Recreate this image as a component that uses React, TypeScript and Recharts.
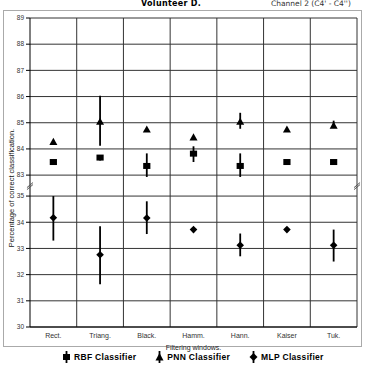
import { ComposedChart, Line, XAxis, YAxis, CartesianGrid, ErrorBar, ReferenceDot } from 'recharts';

// filtering windows on the x axis
const categories = ['Rect.', 'Triang.', 'Black.', 'Hamm.', 'Hann.', 'Kaiser', 'Tuk.'];

// RBF classifier (squares)
const rbfValues = [83.5, 83.67, 83.35, 83.82, 83.35, 83.5, 83.5];
const rbfLow = [83.5, 83.56, 82.93, 83.5, 82.93, 83.5, 83.5];
const rbfHigh = [83.5, 83.76, 83.83, 84.1, 83.83, 83.5, 83.5];

// PNN classifier (triangles)
const pnnValues = [84.28, 85.05, 84.75, 84.45, 85.05, 84.75, 84.9];
const pnnLow = [84.28, 84.12, 84.75, 84.45, 84.77, 84.75, 84.8];
const pnnHigh = [84.28, 86.03, 84.75, 84.45, 85.38, 84.75, 85.08];

// MLP classifier (diamonds)
const mlpValues = [34.17, 32.76, 34.16, 33.72, 33.12, 33.72, 33.12];
const mlpLow = [33.3, 31.63, 33.55, 33.72, 32.7, 33.72, 32.5];
const mlpHigh = [35.0, 33.85, 34.8, 33.72, 33.57, 33.72, 33.72];

const yTickLabels = [30, 31, 32, 33, 34, 35, 83, 84, 85, 86, 87, 88, 89];

// broken y axis: 30-35 and 83-89 stacked with a small gap
const BREAK_FROM = 35;
const BREAK_TO = 83;
const BREAK_GAP = 0.8;
const toAxis = (v: number) => (v <= BREAK_FROM ? v : v - BREAK_TO + BREAK_FROM + BREAK_GAP);
const fromAxis = (t: number) => (t <= BREAK_FROM + BREAK_GAP / 2 ? t : t - BREAK_FROM - BREAK_GAP + BREAK_TO);

const data = categories.map((name, i) => ({
  name,
  rbf: toAxis(rbfValues[i]),
  rbfErr: [rbfValues[i] - rbfLow[i], rbfHigh[i] - rbfValues[i]],
  pnn: toAxis(pnnValues[i]),
  pnnErr: [pnnValues[i] - pnnLow[i], pnnHigh[i] - pnnValues[i]],
  mlp: toAxis(mlpValues[i]),
  mlpErr: [mlpValues[i] - mlpLow[i], mlpHigh[i] - mlpValues[i]],
}));

const square = (p: any) => <rect key={p.key ?? p.index} x={p.cx - 3.6} y={p.cy - 3} width={7.2} height={6} fill="#000" />;
const triangle = (p: any) => (
  <polygon key={p.key ?? p.index} points={`${p.cx - 4},${p.cy + 3.3} ${p.cx + 4},${p.cy + 3.3} ${p.cx},${p.cy - 3.8}`} fill="#000" />
);
const diamond = (p: any) => (
  <polygon key={p.key ?? p.index} points={`${p.cx},${p.cy - 3.8} ${p.cx + 3.8},${p.cy} ${p.cx},${p.cy + 3.8} ${p.cx - 3.8},${p.cy}`} fill="#000" />
);

const breakMark = (p: any) => (
  <g>
    <line x1={p.cx - 3} y1={p.cy + 2} x2={p.cx + 3} y2={p.cy - 3} stroke="#555" strokeWidth={1} />
    <line x1={p.cx - 3} y1={p.cy + 4} x2={p.cx + 3} y2={p.cy - 1} stroke="#555" strokeWidth={1} />
  </g>
);

// vertical grid lines sit on the boundaries between windows
const windowBounds = ({ offset }: any) =>
  categories.map((_, i) => offset.left + ((i + 1) * offset.width) / categories.length);

const font = '"Liberation Sans", Arial, sans-serif';

function LegendItem({ label, shape }: { label: string; shape: 'square' | 'triangle' | 'diamond' }) {
  return (
    <div style={{ display: 'flex', alignItems: 'center', gap: 3 }}>
      <svg width={9} height={12}>
        <line x1={4.5} y1={0} x2={4.5} y2={12} stroke="#000" strokeWidth={1.8} />
        {shape === 'square' && <rect x={1} y={3} width={7} height={6} fill="#000" />}
        {shape === 'triangle' && <polygon points="0.5,9.5 8.5,9.5 4.5,2" fill="#000" />}
        {shape === 'diamond' && <polygon points="4.5,2 8.5,6 4.5,10 0.5,6" fill="#000" />}
      </svg>
      <span style={{ fontFamily: font, fontWeight: 'bold', fontSize: 8.5, letterSpacing: 0.3, color: '#000' }}>{label}</span>
    </div>
  );
}

export default function App() {
  return (
    <div style={{ position: 'absolute', left: 0, top: 0, width: 365, height: 366, background: '#fff', overflow: 'hidden' }}>
      <div style={{ position: 'absolute', left: 3, top: 10, width: 357, height: 335, border: '1.5px solid #aaa' }} />
      <div style={{ position: 'absolute', left: 141, top: -1, fontFamily: '"DejaVu Sans", sans-serif', fontWeight: 'bold', fontSize: 8, letterSpacing: 0.3 }}>
        Volunteer D.
      </div>
      <div style={{ position: 'absolute', left: 271, top: -1, fontFamily: '"DejaVu Sans", sans-serif', fontSize: 7.5, color: '#333' }}>
        Channel 2 (Ĉ4' - Ĉ4'')
      </div>
      <div
        style={{
          position: 'absolute',
          left: 11,
          top: 188,
          transform: 'translate(-50%, -50%) rotate(-90deg)',
          whiteSpace: 'nowrap',
          fontFamily: font,
          fontSize: 7.5,
          color: '#111',
        }}
      >
        Percentage of correct classification.
      </div>
      <div style={{ position: 'absolute', left: 0, top: 0 }}>
        <ComposedChart width={365} height={366} data={data} margin={{ top: 18, right: 8, left: 0, bottom: 16 }}>
          <XAxis
            dataKey="name"
            type="category"
            scale="band"
            height={23}
            tickLine={false}
            axisLine={{ stroke: '#000' }}
            tick={{ fontSize: 7, fill: '#333', fontFamily: font }}
            tickMargin={0}
            label={{ value: 'Filtering windows.', position: 'insideBottom', offset: 0, fontSize: 7, fill: '#222', fontFamily: font }}
          />
          <YAxis
            type="number"
            width={30}
            domain={[30, toAxis(89)]}
            ticks={yTickLabels.map(toAxis)}
            tickFormatter={(t: number) => String(Math.round(fromAxis(t)))}
            interval={0}
            tick={{ fontSize: 6.5, fill: '#333', fontFamily: font }}
            tickSize={4}
            tickLine={{ stroke: '#000' }}
            axisLine={{ stroke: '#000' }}
          />
          <CartesianGrid stroke="#333" strokeWidth={1} verticalCoordinatesGenerator={windowBounds} />
          <Line dataKey="rbf" stroke="none" dot={square} activeDot={false} isAnimationActive={false}>
            <ErrorBar dataKey="rbfErr" width={0} stroke="#000" strokeWidth={1.8} direction="y" />
          </Line>
          <Line dataKey="pnn" stroke="none" dot={triangle} activeDot={false} isAnimationActive={false}>
            <ErrorBar dataKey="pnnErr" width={0} stroke="#000" strokeWidth={1.8} direction="y" />
          </Line>
          <Line dataKey="mlp" stroke="none" dot={diamond} activeDot={false} isAnimationActive={false}>
            <ErrorBar dataKey="mlpErr" width={0} stroke="#000" strokeWidth={1.8} direction="y" />
          </Line>
          <ReferenceDot x="Rect." y={BREAK_FROM + BREAK_GAP / 2} r={0} shape={(p: any) => breakMark({ ...p, cx: p.cx - 23.4 })} ifOverflow="visible" />
          <ReferenceDot x="Tuk." y={BREAK_FROM + BREAK_GAP / 2} r={0} shape={(p: any) => breakMark({ ...p, cx: p.cx + 23.4 })} ifOverflow="visible" />
        </ComposedChart>
      </div>
      <div style={{ position: 'absolute', left: 62, top: 351, display: 'flex', gap: 19 }}>
        <LegendItem label="RBF Classifier" shape="square" />
        <LegendItem label="PNN Classifier" shape="triangle" />
        <LegendItem label="MLP Classifier" shape="diamond" />
      </div>
    </div>
  );
}
